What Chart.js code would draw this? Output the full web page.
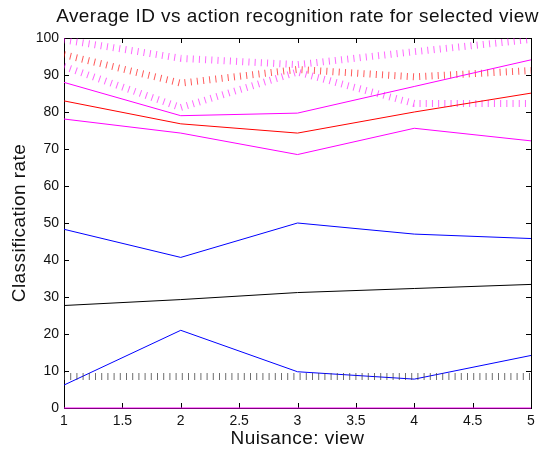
<!DOCTYPE html>
<html>
<head>
<meta charset="utf-8">
<script src="https://cdn.jsdelivr.net/npm/chart.js@4.4.0/dist/chart.umd.min.js"></script>
<style>
  html, body { margin: 0; padding: 0; background: #fff; }
  #wrap { width: 541px; height: 452px; position: relative; }
</style>
</head>
<body>
<div id="wrap"><canvas id="chart"></canvas></div>
<script>
// views on the x axis
const views = [1, 2, 3, 4, 5];

// recognition rates
const magentaDottedTop = [99.5, 94.5, 92.8, 96.3, 99.6];
const redDotted = [95.5, 87.8, 91.5, 89.5, 91.2];
const magentaDottedLow = [92.3, 81.2, 90.8, 82.3, 82.3];
const magentaUpper = [88, 79, 79.7, 86.9, 94.1];
const redSolid = [83, 76.8, 74.3, 80, 85.1];
const magentaLower = [78.1, 74.3, 68.5, 75.6, 72.2];
const blueUpper = [48.3, 40.7, 50, 47, 45.8];
const blackSolid = [27.7, 29.3, 31.2, 32.3, 33.4];
const blueLower = [6.2, 21, 9.8, 7.8, 14.2];
const blackDotted = [8.5, 8.5, 8.5, 8.5, 8.5];
const magentaZero = [0, 0, 0, 0, 0];

const xTicks = [1, 1.5, 2, 2.5, 3, 3.5, 4, 4.5, 5];
const yTicks = [0, 10, 20, 30, 40, 50, 60, 70, 80, 90, 100];

const FONT = "'Liberation Sans', Arial, sans-serif";

const toPoints = (vals) => vals.map((v, i) => ({ x: views[i], y: v }));

const solid = (vals, color) => ({
  data: toPoints(vals),
  borderColor: color,
  borderWidth: 1,
  pointRadius: 0,
  tension: 0,
  clip: { left: 0, right: 0, top: 0, bottom: 2 },
});

// matlab-ish dotted line: thick stroke with tiny dashes
const dotted = (vals, color) => ({
  data: toPoints(vals),
  borderColor: color,
  borderWidth: 7,
  borderDash: [1, 5.2],
  borderCapStyle: "butt",
  pointRadius: 0,
  tension: 0,
  clip: 0,
});

const frame = {
  id: "frame",
  beforeDatasetsDraw(chart) {
    const { ctx, chartArea: a, scales } = chart;
    ctx.save();
    ctx.strokeStyle = "#000";
    ctx.lineWidth = 1;
    ctx.strokeRect(a.left + 0.5, a.top + 0.5, a.right - a.left, a.bottom - a.top);
    ctx.beginPath();
    xTicks.forEach((t) => {
      const px = Math.round(scales.x.getPixelForValue(t)) + 0.5;
      ctx.moveTo(px, a.bottom);
      ctx.lineTo(px, a.bottom - 5);
      ctx.moveTo(px, a.top);
      ctx.lineTo(px, a.top + 5);
    });
    yTicks.forEach((t) => {
      const py = Math.round(scales.y.getPixelForValue(t)) + 0.5;
      ctx.moveTo(a.left, py);
      ctx.lineTo(a.left + 5, py);
      ctx.moveTo(a.right, py);
      ctx.lineTo(a.right - 5, py);
    });
    ctx.stroke();
    ctx.restore();
  },
  afterDraw(chart) {
    const { ctx, chartArea: a } = chart;
    const cx = (a.left + a.right) / 2;
    ctx.save();
    ctx.fillStyle = "#111";
    ctx.font = "19px " + FONT;
    ctx.letterSpacing = "0.45px";
    ctx.textAlign = "center";
    ctx.textBaseline = "alphabetic";
    ctx.fillText("Average ID vs action recognition rate for selected view", cx, 22);
    ctx.fillText("Nuisance: view", cx, 444);
    ctx.translate(25, (a.top + a.bottom) / 2);
    ctx.rotate(-Math.PI / 2);
    ctx.fillText("Classification rate", 0, 0);
    ctx.restore();
  },
};

new Chart(document.getElementById("chart"), {
  type: "line",
  data: {
    datasets: [
      solid(magentaZero, "#ff00ff"),
      dotted(blackDotted, "rgba(60,60,60,0.75)"),
      solid(blueLower, "#0000ff"),
      solid(blackSolid, "#000000"),
      solid(blueUpper, "#0000ff"),
      solid(magentaLower, "#ff00ff"),
      solid(redSolid, "#ff0000"),
      solid(magentaUpper, "#ff00ff"),
      dotted(magentaDottedLow, "rgba(255,0,255,0.6)"),
      dotted(redDotted, "rgba(255,0,0,0.65)"),
      dotted(magentaDottedTop, "rgba(255,0,255,0.6)"),
    ],
  },
  options: {
    responsive: true,
    maintainAspectRatio: false,
    animation: false,
    layout: { padding: { top: 38, right: 10, left: 0, bottom: 0 } },
    plugins: { legend: { display: false }, tooltip: { enabled: false }, title: { display: false } },
    scales: {
      x: {
        type: "linear",
        min: 1,
        max: 5,
        afterBuildTicks: (scale) => { scale.ticks = xTicks.map((v) => ({ value: v })); },
        afterFit: (scale) => { scale.height = 44; },
        grid: { display: false, drawTicks: false },
        border: { display: false },
        ticks: {
          color: "#111",
          padding: 5,
          maxRotation: 0,
          callback: (v) => String(v),
          font: { size: 14, family: FONT },
        },
      },
      y: {
        min: 0,
        max: 100,
        afterBuildTicks: (scale) => { scale.ticks = yTicks.map((v) => ({ value: v })); },
        afterFit: (scale) => { scale.width = 64; },
        grid: { display: false, drawTicks: false },
        border: { display: false },
        ticks: { color: "#111", padding: 5, callback: (v) => String(v), font: { size: 14, family: FONT } },
      },
    },
  },
  plugins: [frame],
});
</script>
</body>
</html>
